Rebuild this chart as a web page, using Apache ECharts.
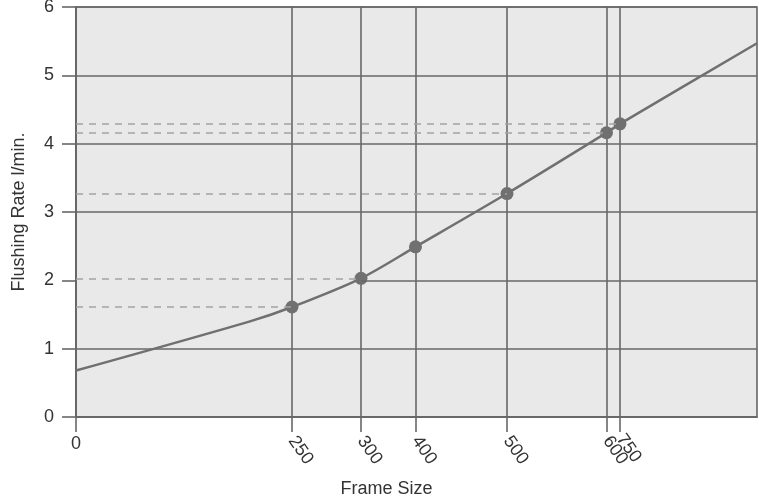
<!DOCTYPE html>
<html>
<head>
<meta charset="utf-8">
<script src="https://cdn.jsdelivr.net/npm/echarts@6/dist/echarts.min.js"></script>
<style>
  html, body { margin: 0; padding: 0; background: #ffffff; }
  #chart { width: 759px; height: 498px; }
</style>
</head>
<body>
<div id="chart"></div>
<script>
// Frame sizes shown on the x axis and where each one sits along it
// (the axis runs 0..100 across the plot; frame sizes are not evenly spaced).
const frameSizes = ['250', '300', '400', '500', '600', '750'];
const framePos = [31.72, 41.85, 49.85, 63.29, 77.9, 79.88];
// Flushing rate (l/min) for each frame size
const flushRate = [1.61, 2.03, 2.49, 3.27, 4.16, 4.29];
// Frame sizes that get a dashed guide back to the y axis
const guideSizes = ['250', '300', '500', '600', '750'];
// Extra curve points before the first and after the last frame size
const curveLead = [[0, 0.68], [25.55, 1.40]];
const curveTail = [[100, 5.47]];
// Y axis range
const yTicks = [0, 1, 2, 3, 4, 5, 6];

const FONT = '"Liberation Sans", Arial, sans-serif';
const GRID_COLOR = '#676767';
const MARK_COLOR = '#707070';
const LABEL = { fontFamily: FONT, fontSize: 18, color: '#333' };

const markedPoints = frameSizes.map((s, i) => [framePos[i], flushRate[i]]);
const curve = curveLead.concat(markedPoints, curveTail);

const guideLines = guideSizes.map(s => {
  const i = frameSizes.indexOf(s);
  return [{ coord: [0, flushRate[i]] }, { coord: [framePos[i], flushRate[i]] }];
});

// The y = 2 grid line is only drawn to the right of the 300 frame point.
const i300 = frameSizes.indexOf('300');
const partialGrid = [[{ coord: [framePos[i300], 2] }, { coord: [100, 2] }]];

const splitColors = yTicks.map(v => (v === 2 ? 'rgba(0,0,0,0)' : GRID_COLOR));

// Rotated frame-size labels are split over two axes so the two
// close-together sizes (600 and 750) both stay visible.
const lastPos = framePos.slice(-1);
const otherPos = framePos.slice(0, -1);
const sizeLabel = v => {
  const i = framePos.indexOf(v);
  return i >= 0 ? frameSizes[i] : '';
};
const labelOnlyAxis = (values, extra) => Object.assign({
  type: 'value', min: 0, max: 100, position: 'bottom',
  axisLine: { show: false }, axisTick: { show: false }, splitLine: { show: false }
}, extra, { axisLabel: Object.assign({ customValues: values, hideOverlap: false }, LABEL, extra.axisLabel) });

const chart = echarts.init(document.getElementById('chart'), null, { renderer: 'canvas' });
chart.setOption({
  animation: false,
  backgroundColor: '#ffffff',
  grid: {
    left: 76, right: 2, top: 7, bottom: 81,
    outerBoundsMode: 'none', containLabel: false,
    show: true, backgroundColor: '#e9e9e9',
    borderColor: GRID_COLOR, borderWidth: 1.6
  },
  xAxis: [
    {
      type: 'value', min: 0, max: 100,
      name: 'Frame Size', nameLocation: 'middle', nameGap: 63,
      nameTextStyle: Object.assign({ padding: [0, 60, 0, 0] }, LABEL),
      axisLine: { show: true, lineStyle: { color: GRID_COLOR, width: 1.6 } },
      axisTick: {
        show: true, length: 15, customValues: [0].concat(framePos),
        lineStyle: { color: GRID_COLOR, width: 1.6 }
      },
      splitLine: {
        show: true, customValues: framePos,
        lineStyle: { color: GRID_COLOR, width: 1.6 }
      },
      axisLabel: Object.assign({
        customValues: otherPos, rotate: -55, margin: 21, hideOverlap: false,
        formatter: sizeLabel
      }, LABEL)
    },
    labelOnlyAxis(lastPos, { axisLabel: { rotate: -55, margin: 19, formatter: sizeLabel } }),
    labelOnlyAxis([0], { axisLabel: { margin: 18, formatter: v => String(v) } })
  ],
  yAxis: {
    type: 'value', min: 0, max: 6, interval: 1,
    name: 'Flushing Rate l/min.', nameLocation: 'middle', nameGap: 48,
    nameTextStyle: LABEL,
    axisLine: { show: true, lineStyle: { color: GRID_COLOR, width: 1.6 } },
    axisTick: { show: true, length: 14, lineStyle: { color: GRID_COLOR, width: 1.6 } },
    splitLine: { show: true, lineStyle: { color: splitColors, width: 1.6 } },
    axisLabel: Object.assign({ margin: 22 }, LABEL)
  },
  series: [
    {
      name: 'guides', type: 'line', data: [], silent: true,
      markLine: {
        silent: true, symbol: ['none', 'none'], label: { show: false },
        lineStyle: { color: '#a3a3a3', width: 1.5, type: [7, 6] },
        data: guideLines
      }
    },
    {
      name: 'grid2', type: 'line', data: [], silent: true,
      markLine: {
        silent: true, symbol: ['none', 'none'], label: { show: false },
        lineStyle: { color: GRID_COLOR, width: 1.6, type: 'solid' },
        data: partialGrid
      }
    },
    {
      name: 'curve', type: 'line', data: curve, smooth: 0.3,
      showSymbol: false, symbol: 'none',
      lineStyle: { color: MARK_COLOR, width: 2.5 }, z: 3
    },
    {
      name: 'frames', type: 'scatter', data: markedPoints,
      symbol: 'circle', symbolSize: 13,
      itemStyle: { color: MARK_COLOR, opacity: 1 }, z: 4
    }
  ]
});
</script>
</body>
</html>
